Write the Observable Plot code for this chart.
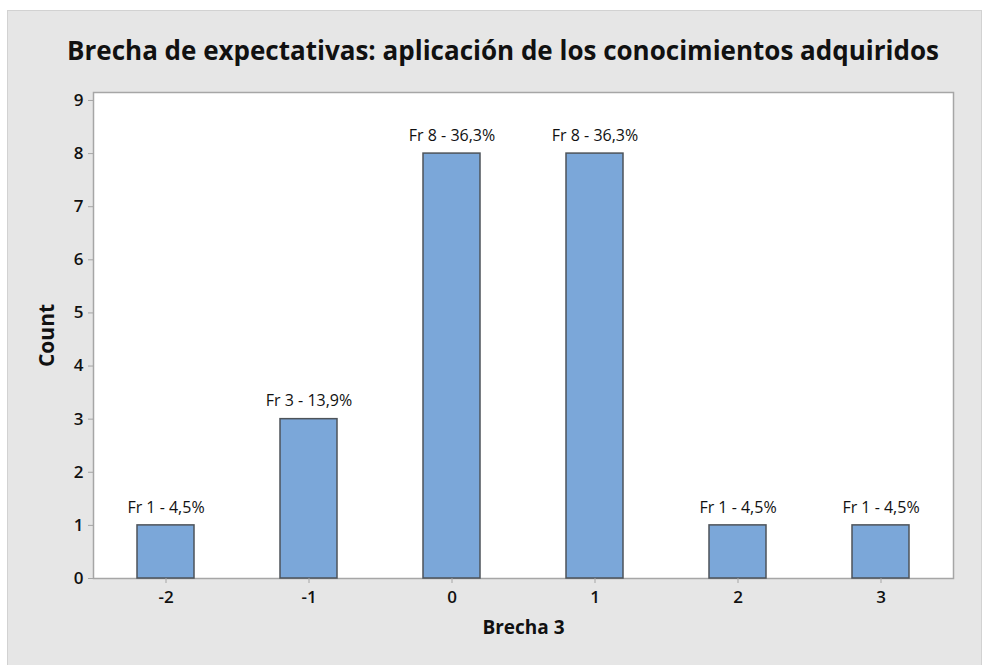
<!DOCTYPE html>
<html>
<head>
<meta charset="utf-8">
<script src="https://cdn.jsdelivr.net/npm/d3@7"></script>
<script src="https://cdn.jsdelivr.net/npm/@observablehq/plot@0.6"></script>
<style>
  html, body { margin: 0; padding: 0; background: #ffffff; }
  #wrap { position: relative; width: 984px; height: 665px; font-family: "Open Sans", "Noto Sans", sans-serif; }
  #panel { position: absolute; left: 7px; top: 10px; width: 975px; height: 660px; background: #e6e6e6; border: 1px solid #d2d2d2; box-sizing: border-box; }
  #title { position: absolute; left: 7px; width: 992px; top: 32px; text-align: center; font-size: 26px; font-weight: 700; color: #111; white-space: nowrap; }
  #chart { position: absolute; left: 0; top: 0; }
</style>
</head>
<body>
<div id="wrap">
  <div id="panel"></div>
  <div id="title">Brecha de expectativas: aplicación de los conocimientos adquiridos</div>
  <div id="chart"></div>
</div>
<script>
const categories = ["-2", "-1", "0", "1", "2", "3"];
const counts = [1, 3, 8, 8, 1, 1];
const barLabels = ["Fr 1 - 4,5%", "Fr 3 - 13,9%", "Fr 8 - 36,3%", "Fr 8 - 36,3%", "Fr 1 - 4,5%", "Fr 1 - 4,5%"];
const yTicks = [0, 1, 2, 3, 4, 5, 6, 7, 8, 9];

const data = categories.map((c, i) => ({cat: c, count: counts[i], label: barLabels[i]}));

const plot = Plot.plot({
  width: 984,
  height: 665,
  marginLeft: 93,
  marginRight: 31,
  marginTop: 92,
  marginBottom: 87,
  style: {background: "transparent", fontFamily: "'Open Sans', 'Noto Sans', sans-serif", color: "#111"},
  x: {type: "band", domain: categories, paddingInner: 0.6, paddingOuter: 0.3, label: null},
  y: {domain: [0, 9.15], label: null},
  marks: [
    Plot.frame({fill: "white", stroke: "#a6a6a6", strokeWidth: 1.5}),
    Plot.barY(data, {x: "cat", y: "count", fill: "#7ba7d9", stroke: "#4d5359", strokeWidth: 1.5}),
    Plot.text(data, {x: "cat", y: "count", text: "label", dy: -18, fontSize: 16, fill: "#111"}),
    Plot.axisY(yTicks, {tickSize: 5, tickPadding: 5, tickFormat: "d", stroke: "#a6a6a6", fontSize: 17, fontWeight: 600, fill: "#111", label: null}),
    Plot.axisX({tickSize: 5, tickPadding: 7, stroke: "#a6a6a6", fontSize: 17, fontWeight: 600, fill: "#111", label: null}),
    Plot.text(["Count"], {frameAnchor: "left", textAnchor: "middle", dx: -46, rotate: -90, fontSize: 21, fontWeight: 700, fill: "#111"}),
    Plot.text(["Brecha 3"], {frameAnchor: "bottom", dy: 55, fontSize: 19, fontWeight: 700, fill: "#111"})
  ]
});
document.getElementById("chart").appendChild(plot);
</script>
</body>
</html>
